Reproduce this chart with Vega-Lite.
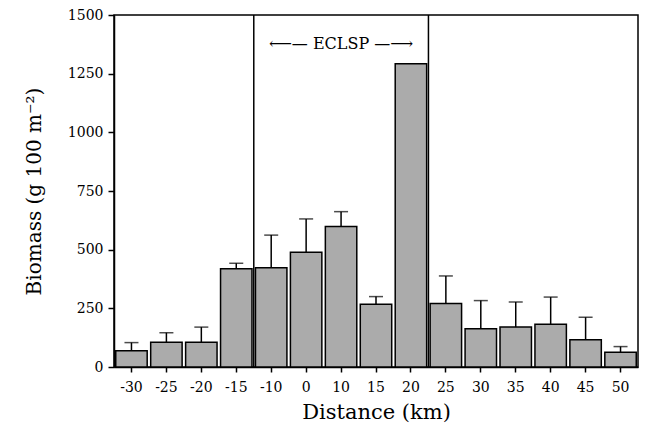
{
  "$schema": "https://vega.github.io/schema/vega-lite/v6.json",
  "width": 524,
  "height": 352,
  "autosize": {"type": "none"},
  "padding": {"left": 114, "top": 15, "right": 10, "bottom": 66},
  "background": "white",
  "config": {
    "font": "DejaVu Serif",
    "view": {"stroke": "black", "strokeWidth": 1.5},
    "axis": {
      "domainColor": "black", "domainWidth": 1.5,
      "tickColor": "black", "tickWidth": 1.5,
      "labelColor": "black", "titleColor": "black",
      "labelFont": "DejaVu Serif", "titleFont": "DejaVu Serif",
      "titleFontWeight": "normal", "grid": false
    }
  },
  "datasets": {
    "bars": [
      {"d": -30, "biomass": 69, "err": 104},
      {"d": -25, "biomass": 105, "err": 146},
      {"d": -20, "biomass": 105, "err": 170},
      {"d": -15, "biomass": 419, "err": 442},
      {"d": -10, "biomass": 423, "err": 562},
      {"d": 0, "biomass": 489, "err": 631},
      {"d": 10, "biomass": 599, "err": 662},
      {"d": 15, "biomass": 267, "err": 300},
      {"d": 20, "biomass": 1292, "err": null},
      {"d": 25, "biomass": 271, "err": 388},
      {"d": 30, "biomass": 163, "err": 283},
      {"d": 35, "biomass": 170, "err": 277},
      {"d": 40, "biomass": 182, "err": 298},
      {"d": 45, "biomass": 116, "err": 212},
      {"d": 50, "biomass": 63, "err": 87}
    ],
    "bounds": [{"d": -10}, {"d": 25}],
    "label": [{"d": 10, "y": 1378, "text": "⟵— ECLSP —⟶"}]
  },
  "layer": [
    {
      "data": {"name": "bars"},
      "mark": {"type": "bar", "fill": "#ababab", "stroke": "black", "strokeWidth": 1.5},
      "encoding": {
        "x": {
          "field": "d", "type": "ordinal",
          "scale": {"domain": [-30, -25, -20, -15, -10, 0, 10, 15, 20, 25, 30, 35, 40, 45, 50], "paddingInner": 0.1, "paddingOuter": 0.05},
          "axis": {
            "labelAngle": 0, "labelFontSize": 14, "tickSize": 5, "labelPadding": 8,
            "title": "Distance (km)", "titleFontSize": 21,
            "titleX": 262, "titleY": 45, "titleAnchor": "middle", "titleBaseline": "middle", "titleAlign": "center"
          }
        },
        "y": {
          "field": "biomass", "type": "quantitative",
          "scale": {"domain": [0, 1500], "nice": false},
          "axis": {
            "values": [0, 125, 250, 375, 500, 625, 750, 875, 1000, 1125, 1250, 1375, 1500],
            "format": "d",
            "labelExpr": "datum.value % 250 === 0 ? datum.label : ''",
            "tickSize": {"condition": {"test": "datum.value % 250 === 0", "value": 6}, "value": 3},
            "labelFontSize": 14, "labelPadding": 5,
            "title": "Biomass (g 100 m⁻²)", "titleFontSize": 20,
            "titleX": -80, "titleY": 176, "titleAngle": -90, "titleAlign": "center", "titleBaseline": "middle"
          }
        }
      }
    },
    {
      "data": {"name": "bars"},
      "transform": [{"filter": "datum.err != null"}],
      "mark": {"type": "rule", "color": "black", "strokeWidth": 1.5},
      "encoding": {
        "x": {"field": "d", "type": "ordinal"},
        "y": {"field": "biomass", "type": "quantitative"},
        "y2": {"field": "err"}
      }
    },
    {
      "data": {"name": "bars"},
      "transform": [{"filter": "datum.err != null"}],
      "mark": {"type": "tick", "color": "black", "thickness": 1.5, "size": 14, "orient": "horizontal"},
      "encoding": {
        "x": {"field": "d", "type": "ordinal"},
        "y": {"field": "err", "type": "quantitative"}
      }
    },
    {
      "data": {"name": "bounds"},
      "mark": {"type": "rule", "color": "black", "strokeWidth": 1.5, "xOffset": -1.7},
      "encoding": {
        "x": {"field": "d", "type": "ordinal", "bandPosition": 0}
      }
    },
    {
      "data": {"name": "label"},
      "mark": {"type": "text", "fontSize": 16, "font": "DejaVu Serif", "color": "black"},
      "encoding": {
        "x": {"field": "d", "type": "ordinal"},
        "y": {"field": "y", "type": "quantitative"},
        "text": {"field": "text"}
      }
    }
  ]
}
